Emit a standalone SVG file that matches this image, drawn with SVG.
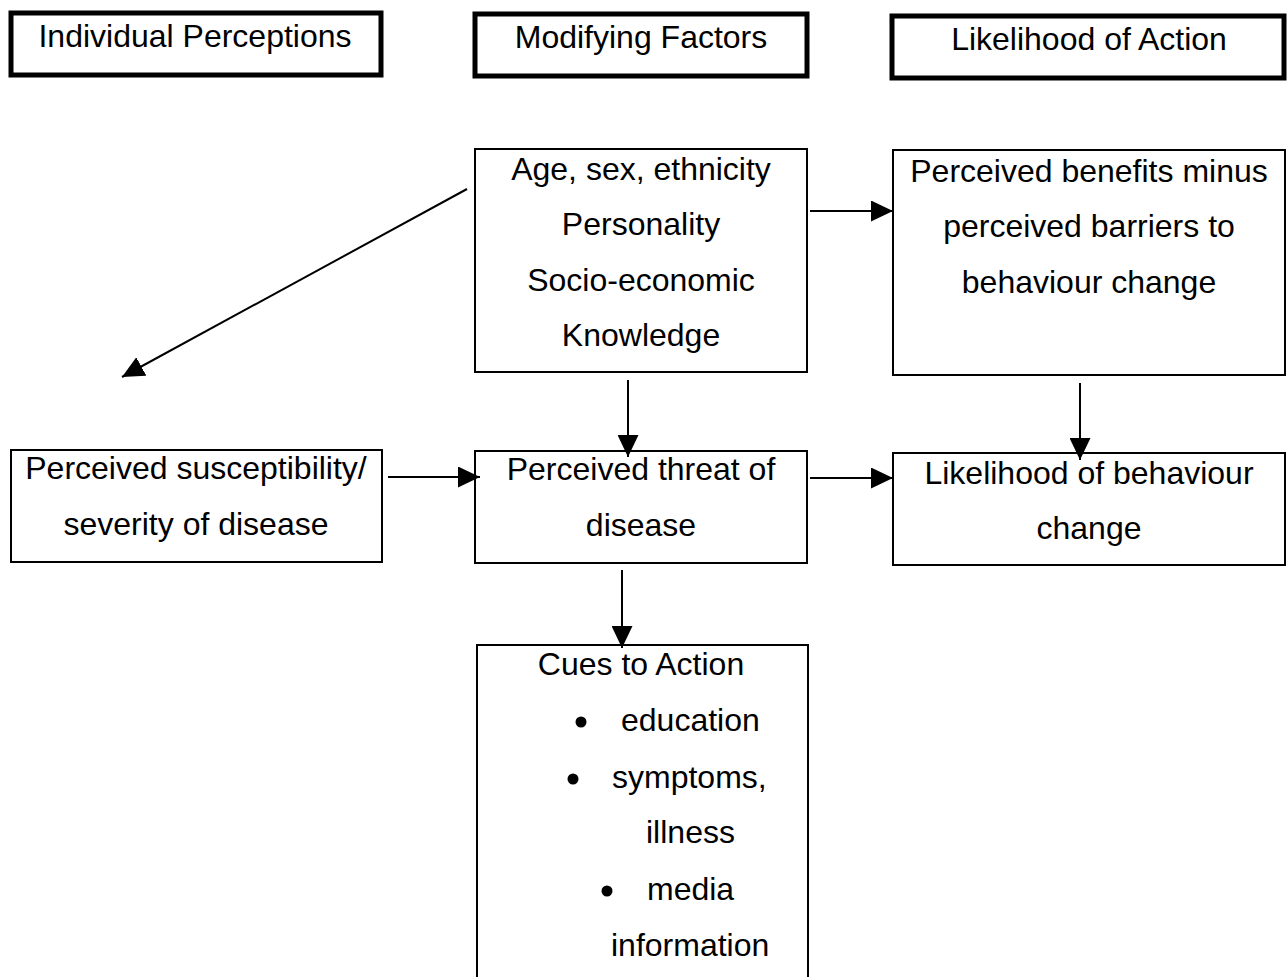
<svg xmlns="http://www.w3.org/2000/svg" width="1288" height="977" viewBox="0 0 1288 977">
<style>
.hdr{fill:#fff;stroke:#000;stroke-width:5}
.box{fill:#fff;stroke:#000;stroke-width:2}
text{font-family:"Liberation Sans",Arial,sans-serif;font-size:32px;fill:#000}
.c{text-anchor:middle}
.con line{stroke:#000;stroke-width:2;marker-end:url(#ah)}
</style>
<defs>
<marker id="ah" viewBox="0 0 22 21" refX="22" refY="10.5" markerWidth="22" markerHeight="21" markerUnits="userSpaceOnUse" orient="auto">
<path d="M0,0 L22,10.5 L0,21 Z" fill="#000"/>
</marker>
</defs>
<g id="hdr-individual">
<rect class="hdr" x="11" y="13" width="370" height="62"/>
<text class="c" x="195" y="47">Individual Perceptions</text>
</g>
<g id="hdr-modifying">
<rect class="hdr" x="475" y="14" width="332" height="62"/>
<text class="c" x="641" y="48">Modifying Factors</text>
</g>
<g id="hdr-likelihood">
<rect class="hdr" x="892" y="16" width="392" height="62"/>
<text class="c" x="1089" y="50">Likelihood of Action</text>
</g>
<g id="modifying">
<rect class="box" x="475" y="149" width="332" height="223"/>
<text class="c" x="641" y="180">Age, sex, ethnicity</text>
<text class="c" x="641" y="235">Personality</text>
<text class="c" x="641" y="291">Socio-economic</text>
<text class="c" x="641" y="346">Knowledge</text>
</g>
<g id="benefits">
<rect class="box" x="893" y="150" width="392" height="225"/>
<text class="c" x="1089" y="182">Perceived benefits minus</text>
<text class="c" x="1089" y="237">perceived barriers to</text>
<text class="c" x="1089" y="293">behaviour change</text>
</g>
<g id="susceptibility">
<rect class="box" x="11" y="450" width="371" height="112"/>
<text class="c" x="196" y="479">Perceived susceptibility/</text>
<text class="c" x="196" y="535">severity of disease</text>
</g>
<g id="threat">
<rect class="box" x="475" y="451" width="332" height="112"/>
<text class="c" x="641" y="480">Perceived threat of</text>
<text class="c" x="641" y="536">disease</text>
</g>
<g id="likelihood">
<rect class="box" x="893" y="453" width="392" height="112"/>
<text class="c" x="1089" y="484">Likelihood of behaviour</text>
<text class="c" x="1089" y="539">change</text>
</g>
<g id="cues">
<rect class="box" x="477" y="645" width="331" height="345"/>
<text class="c" x="641" y="675">Cues to Action</text>
<circle cx="581" cy="722" r="5.5"/>
<text x="621" y="731">education</text>
<circle cx="573" cy="779" r="5.5"/>
<text x="612" y="788">symptoms,</text>
<text x="646" y="843">illness</text>
<circle cx="607" cy="891" r="5.5"/>
<text x="647" y="900">media</text>
<text x="611" y="956">information</text>
</g>
<g id="connectors" class="con">
<line x1="467" y1="189" x2="122" y2="377"/>
<line x1="628" y1="380" x2="628" y2="457"/>
<line x1="810" y1="211" x2="893" y2="211"/>
<line x1="1080" y1="383" x2="1080" y2="460"/>
<line x1="388" y1="477" x2="480" y2="477"/>
<line x1="810" y1="478" x2="893" y2="478"/>
<line x1="622" y1="570" x2="622" y2="648"/>
</g>
</svg>
